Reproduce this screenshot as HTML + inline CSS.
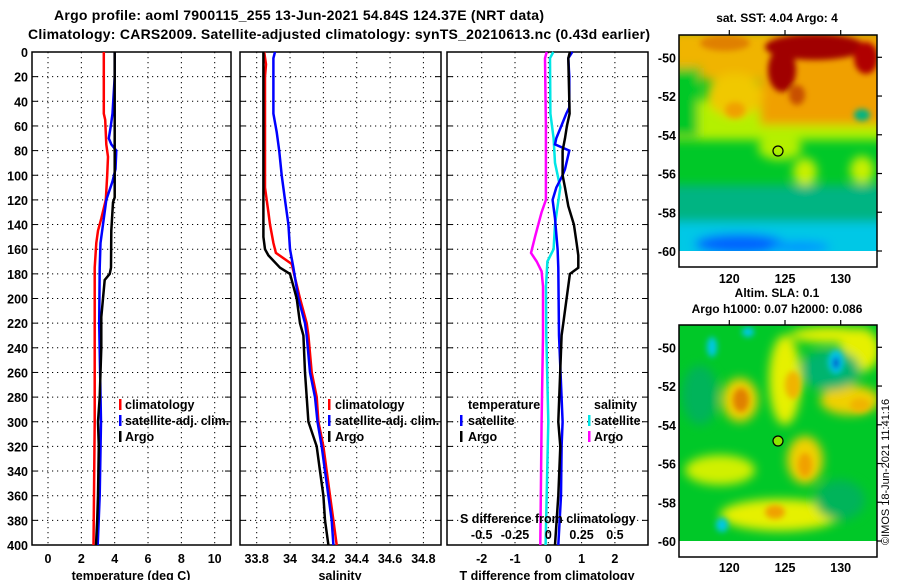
<!DOCTYPE html>
<html><head><meta charset="utf-8"><style>
body{margin:0;background:#fff;}
svg text{font-family:"Liberation Sans",sans-serif;font-weight:bold;fill:#000;}
</style></head><body>
<svg id="c" width="900" height="580" viewBox="0 0 900 580" xmlns="http://www.w3.org/2000/svg">
<defs>
<filter id="bl" x="-20%" y="-20%" width="140%" height="140%"><feGaussianBlur stdDeviation="5"/></filter>
<filter id="bl2" x="-20%" y="-20%" width="140%" height="140%"><feGaussianBlur stdDeviation="3"/></filter>
<clipPath id="m1c"><rect x="679" y="35" width="198" height="216"/></clipPath>
<clipPath id="m2c"><rect x="679" y="325" width="198" height="216"/></clipPath>
</defs>
<text x="54" y="20" font-size="14" textLength="490">Argo profile: aoml 7900115_255 13-Jun-2021 54.84S 124.37E (NRT data)</text>
<text x="28" y="39" font-size="14" textLength="622">Climatology: CARS2009. Satellite-adjusted climatology: synTS_20210613.nc (0.43d earlier)</text>

<g>
<g clip-path="url(#m1c)">
<rect x="679" y="35" width="198" height="216" fill="#00c828"/>
<g filter="url(#bl)">
<rect x="670" y="185" width="220" height="80" fill="#00b482"/>
<rect x="670" y="222" width="220" height="40" fill="#00c8e6"/>
<ellipse cx="740" cy="244" rx="45" ry="10" fill="#0064ff"/>
<ellipse cx="800" cy="247" rx="30" ry="6" fill="#0096ff"/>
<rect x="670" y="100" width="220" height="40" fill="#b4f000"/>
<ellipse cx="780" cy="148" rx="22" ry="12" fill="#b4f000"/>
<ellipse cx="805" cy="172" rx="12" ry="14" fill="#c8f000"/>
<ellipse cx="862" cy="170" rx="12" ry="14" fill="#c8f000"/>
<rect x="760" y="30" width="130" height="95" fill="#f0a000"/>
<rect x="700" y="30" width="70" height="50" fill="#f0b400"/>
<ellipse cx="735" cy="95" rx="28" ry="22" fill="#f0c800"/>
<rect x="670" y="65" width="28" height="72" fill="#00c828"/>
<rect x="670" y="30" width="35" height="38" fill="#f0b400"/>
</g>
<g filter="url(#bl2)">
<ellipse cx="815" cy="47" rx="50" ry="13" fill="#a00000"/>
<ellipse cx="782" cy="70" rx="14" ry="22" fill="#a00000"/>
<ellipse cx="866" cy="58" rx="12" ry="16" fill="#b00000"/>
<ellipse cx="797" cy="95" rx="8" ry="10" fill="#c85000"/>
<ellipse cx="725" cy="43" rx="25" ry="8" fill="#e08000"/>
<ellipse cx="735" cy="110" rx="10" ry="8" fill="#f0a000"/>
<ellipse cx="862" cy="115" rx="8" ry="6" fill="#00b482"/>
</g>
</g>
<rect x="679" y="35" width="198" height="232" fill="none" stroke="#000" stroke-width="1.5"/>
<circle cx="778" cy="151" r="5" fill="none" stroke="#000" stroke-width="1.2"/>
</g>
<text x="777" y="22" font-size="12" text-anchor="middle">sat. SST: 4.04 Argo: 4</text>

<g>
<g clip-path="url(#m2c)">
<rect x="679" y="325" width="198" height="216" fill="#00c828"/>
<g filter="url(#bl)">
<ellipse cx="785" cy="380" rx="16" ry="45" fill="#e6f000"/>
<ellipse cx="740" cy="400" rx="18" ry="22" fill="#f0d000"/>
<ellipse cx="805" cy="460" rx="18" ry="24" fill="#f0d000"/>
<ellipse cx="780" cy="515" rx="60" ry="16" fill="#e6f000"/>
<ellipse cx="850" cy="400" rx="30" ry="15" fill="#f0d000"/>
<ellipse cx="860" cy="350" rx="20" ry="22" fill="#e6f000"/>
<ellipse cx="830" cy="335" rx="40" ry="8" fill="#e6f000"/>
<ellipse cx="720" cy="470" rx="35" ry="15" fill="#d0f000"/>
<ellipse cx="700" cy="395" rx="18" ry="30" fill="#00b45a"/>
<ellipse cx="840" cy="500" rx="25" ry="20" fill="#00b45a"/>
<ellipse cx="830" cy="370" rx="30" ry="20" fill="#00b46e"/>
</g>
<g filter="url(#bl2)">
<ellipse cx="741" cy="400" rx="8" ry="12" fill="#e08000"/>
<ellipse cx="793" cy="385" rx="8" ry="14" fill="#f0b400"/>
<ellipse cx="805" cy="465" rx="7" ry="12" fill="#f0a000"/>
<ellipse cx="775" cy="512" rx="10" ry="7" fill="#f0a000"/>
<ellipse cx="860" cy="405" rx="10" ry="7" fill="#f0b400"/>
<ellipse cx="836" cy="362" rx="8" ry="12" fill="#00c8e6"/>
<ellipse cx="836" cy="363" rx="3" ry="6" fill="#0032c8"/>
<ellipse cx="712" cy="347" rx="5" ry="10" fill="#00c8e6"/>
<ellipse cx="748" cy="332" rx="6" ry="5" fill="#00c8e6"/>
<ellipse cx="722" cy="525" rx="6" ry="7" fill="#00c8e6"/>
</g>
</g>
<rect x="679" y="325" width="198" height="232" fill="none" stroke="#000" stroke-width="1.5"/>
<circle cx="778" cy="441" r="5" fill="#8ce600" stroke="#000" stroke-width="1.2"/>
</g>
<text x="777" y="297" font-size="12" text-anchor="middle">Altim. SLA: 0.1</text>
<text x="777" y="313" font-size="12" text-anchor="middle">Argo h1000: 0.07 h2000: 0.086</text>
<text transform="translate(889,545) rotate(-90)" font-size="11" style="font-weight:normal">©IMOS 18-Jun-2021 11:41:16</text>
<g id="mapaxes"></g>
<g id="panels"></g>
</svg>
<script>
// ---- data ----
const depthTicks = [0,20,40,60,80,100,120,140,160,180,200,220,240,260,280,300,320,340,360,380,400];
const tempTicks = [0,2,4,6,8,10];
const salTicks = [33.8,34,34.2,34.4,34.6,34.8];
const salTickLabels = ["33.8","34","34.2","34.4","34.6","34.8"];
const tdiffTicks = [-2,-1,0,1,2];
const sdiffTicks = [-0.5,-0.25,0,0.25,0.5];
const latTicks = [-50,-52,-54,-56,-58,-60];
const lonTicks = [120,125,130];

const argoTDepth = [0,50,118,122,145,175,180,185,200,215,240,280,300,320,360,380,400];
const argoT = [4.0,4.0,4.0,3.9,3.8,3.78,3.7,3.4,3.3,3.2,3.2,3.1,3.0,3.05,3.0,2.95,2.88];
const satTDepth = [0,20,50,60,70,75,80,95,105,120,140,155,175,220,300,360,400];
const satT = [4.0,4.0,3.87,3.77,3.65,3.8,4.1,4.05,3.87,3.5,3.3,3.15,3.1,3.07,3.18,3.1,2.98];
const climTDepth = [0,50,55,75,85,100,120,135,145,155,175,230,300,400];
const climT = [3.35,3.35,3.43,3.5,3.6,3.55,3.47,3.2,3.0,2.9,2.8,2.8,2.8,2.73];

const argoSDepth = [0,150,160,165,175,180,190,200,220,230,260,280,300,320,340,360,380,400];
const argoS = [33.84,33.84,33.85,33.87,33.94,34.0,34.02,34.04,34.06,34.08,34.09,34.1,34.11,34.16,34.18,34.2,34.21,34.23];
const climSDepth = [0,10,20,110,120,130,140,155,163,172,200,220,230,260,280,300,320,340,360,380,400];
const climS = [33.845,33.856,33.85,33.85,33.86,33.87,33.88,33.9,33.915,34.01,34.06,34.1,34.11,34.13,34.16,34.17,34.2,34.22,34.24,34.26,34.28];
const satSDepth = [0,5,50,65,80,100,120,140,160,175,200,220,230,260,280,300,320,340,360,380,400];
const satS = [33.91,33.9,33.9,33.92,33.935,33.95,33.97,33.99,34.0,34.02,34.05,34.09,34.1,34.12,34.15,34.165,34.19,34.21,34.23,34.25,34.26];

const satTdDepth = [0,5,20,45,50,60,70,75,80,95,100,110,120,135,160,175,230,300,320,360,400];
const satTd = [0.72,0.6,0.63,0.63,0.54,0.39,0.24,0.2,0.63,0.5,0.43,0.24,0.13,0.2,0.28,0.3,0.32,0.43,0.4,0.38,0.3];
const argoTdDepth = [0,5,50,60,70,80,100,110,125,140,155,165,175,180,200,220,230,300,320,360,400];
const argoTd = [0.65,0.6,0.64,0.56,0.5,0.43,0.43,0.5,0.6,0.77,0.85,0.9,0.9,0.65,0.55,0.45,0.4,0.3,0.36,0.3,0.2];
const satSdDepth = [0,5,50,70,90,110,125,140,160,170,190,230,300,400];
const satSd = [0.0375,0.013,0.016,0.04,0.05,0.09,0.07,0.05,0.04,-0.007,-0.017,-0.015,0,-0.02];
const argoSdDepth = [0,5,60,120,130,140,150,163,170,178,190,230,300,400];
const argoSd = [-0.012,-0.025,-0.018,-0.018,-0.05,-0.075,-0.1,-0.13,-0.087,-0.05,-0.04,-0.04,-0.05,-0.06];

// ---- drawing ----
const NS = "http://www.w3.org/2000/svg";
const root = document.getElementById('panels');
function mk(tag, attrs, parent){const e=document.createElementNS(NS,tag);for(const k in attrs)e.setAttribute(k,attrs[k]);(parent||root).appendChild(e);return e;}
const top0 = 52, bot = 545;
function yD(d){return top0 + (d/400)*(bot-top0);}
function lin(v0,p0,v1,p1){return v=>p0+(v-v0)*(p1-p0)/(v1-v0);}
const xT = lin(0,48,10,214.7);
const xS = lin(33.8,256.7,34.8,423.4);
const xTd = lin(0,548.3,1,581.6);
const xSd = lin(0,548.3,0.25,581.6);

function panel(name,x0,x1,ticks,xf,labels,labelY){
  const g = mk('g',{});
  
  
  depthTicks.forEach(d=>{
    const y=yD(d);
    if(d>0&&d<400){
      mk('line',{x1:x0,x2:x1,y1:y,y2:y,stroke:'#000','stroke-width':1,'stroke-dasharray':'1.2,3.8'},g);
    }
    mk('line',{x1:x0,x2:x0+6,y1:y,y2:y,stroke:'#000','stroke-width':1},g);
    mk('line',{x1:x1-6,x2:x1,y1:y,y2:y,stroke:'#000','stroke-width':1},g);
  });
  ticks.forEach((t,i)=>{
    const x=xf(t);
    mk('line',{x1:x,x2:x,y1:top0,y2:bot,stroke:'#000','stroke-width':1,'stroke-dasharray':'1.2,3.8'},g);
    if(labels){
      const tx=mk('text',{x:x,y:labelY,'font-size':12.5,'text-anchor':'middle'},g);
      tx.textContent=labels[i];
      
      
    }
  });
  mk('rect',{x:x0,y:top0,width:x1-x0,height:bot-top0,fill:'none',stroke:'#000','stroke-width':1.5},g);
  return g;
}
function series(g,name,depths,vals,xf,color){
  const pts=depths.map((d,i)=>xf(vals[i]).toFixed(1)+','+yD(d).toFixed(1)).join(' ');
  const p=mk('polyline',{points:pts,fill:'none',stroke:color,'stroke-width':2.5,'stroke-linejoin':'miter'},g);
  
  
}
function label(g,x,y,txt,size,anchor,name){
  const t=mk('text',{x:x,y:y,'font-size':size||12.5,'text-anchor':anchor||'start'},g);
  t.textContent=txt;
  
  
  return t;
}
function legendBar(g,x,y,color,name){
  const r=mk('rect',{x:x,y:y,width:2.5,height:11,fill:color},g);
  
  
}

depthTicks.forEach(d=>{
  const t=mk('text',{x:28,y:yD(d)+5,'font-size':12.5,'text-anchor':'end'});
  t.textContent=String(d);
  
  
});

const p1=panel('temperature-panel',32,231,tempTicks,xT,tempTicks.map(String),563);
series(p1,'temp-climatology-line',climTDepth,climT,xT,'#ff0000');
series(p1,'temp-satellite-line',satTDepth,satT,xT,'#0000ff');
series(p1,'temp-argo-line',argoTDepth,argoT,xT,'#000000');
label(p1,131,580,'temperature (deg C)',12.5,'middle','x-axis-title-temperature');
legendBar(p1,119,399,'#ff0000','legend-climatology-swatch');
legendBar(p1,119,415,'#0000ff','legend-satellite-swatch');
legendBar(p1,119,431,'#000000','legend-argo-swatch');
label(p1,125,409,'climatology',12.5,'start','legend-climatology');
label(p1,125,425,'satellite-adj. clim.',12.5,'start','legend-satellite');
label(p1,125,441,'Argo',12.5,'start','legend-argo');

const p2=panel('salinity-panel',240,441,salTicks,xS,salTickLabels,563);
series(p2,'sal-climatology-line',climSDepth,climS,xS,'#ff0000');
series(p2,'sal-satellite-line',satSDepth,satS,xS,'#0000ff');
series(p2,'sal-argo-line',argoSDepth,argoS,xS,'#000000');
label(p2,340,580,'salinity',12.5,'middle','x-axis-title-salinity');
legendBar(p2,328,399,'#ff0000','legend-climatology-swatch');
legendBar(p2,328,415,'#0000ff','legend-satellite-swatch');
legendBar(p2,328,431,'#000000','legend-argo-swatch');
label(p2,335,409,'climatology',12.5,'start','legend-climatology');
label(p2,335,425,'satellite-adj. clim.',12.5,'start','legend-satellite');
label(p2,335,441,'Argo',12.5,'start','legend-argo');

const p3=panel('difference-panel',447,648,tdiffTicks,xTd,tdiffTicks.map(String),563);
series(p3,'sdiff-argo-line',argoSdDepth,argoSd,xSd,'#ff00ff');
series(p3,'sdiff-satellite-line',satSdDepth,satSd,xSd,'#00e6e6');
series(p3,'tdiff-satellite-line',satTdDepth,satTd,xTd,'#0000ff');
series(p3,'tdiff-argo-line',argoTdDepth,argoTd,xTd,'#000000');
label(p3,547,580,'T difference from climatology',12.5,'middle','x-axis-title-tdiff');
label(p3,460,523,'S difference from climatology',12.5,'start','s-diff-axis-title');
const sdl=["-0.5","-0.25","0","0.25","0.5"];
sdiffTicks.forEach((s,i)=>label(p3,xSd(s),539,sdl[i],12.5,'middle','s-diff-tick-label'));
label(p3,468,409,'temperature',12.5,'start','legend-temperature-header');
legendBar(p3,460,415,'#0000ff','legend-tsat-swatch');
legendBar(p3,460,431,'#000000','legend-targo-swatch');
label(p3,468,425,'satellite',12.5,'start','legend-t-satellite');
label(p3,468,441,'Argo',12.5,'start','legend-t-argo');
label(p3,594,409,'salinity',12.5,'start','legend-salinity-header');
legendBar(p3,588,415,'#00e6e6','legend-ssat-swatch');
legendBar(p3,588,431,'#ff00ff','legend-sargo-swatch');
label(p3,594,425,'satellite',12.5,'start','legend-s-satellite');
label(p3,594,441,'Argo',12.5,'start','legend-s-argo');

const ma=document.getElementById('mapaxes');
const lonX=lin(120,729.3,125,785);
[[35,57.3,251,283],[325,347.3,541,572]].forEach(([mt,y50,y60,ly])=>{
  const yl=lin(-50,y50,-60,y60);
  latTicks.forEach(l=>{
    const y=yl(l);
    mk('line',{x1:877,x2:882,y1:y,y2:y,stroke:'#000','stroke-width':1.2},ma);
    const t=mk('text',{x:676,y:y+5,'font-size':12.5,'text-anchor':'end'},ma);
    t.textContent=String(l);
    
    
  });
  lonTicks.forEach(l=>{
    const x=lonX(l);
    mk('line',{x1:x,x2:x,y1:mt-5,y2:mt,stroke:'#000','stroke-width':1.2},ma);
    const t=mk('text',{x:x,y:ly,'font-size':12.5,'text-anchor':'middle'},ma);
    t.textContent=String(l);
    
    
  });
});
</script>
</body></html>
